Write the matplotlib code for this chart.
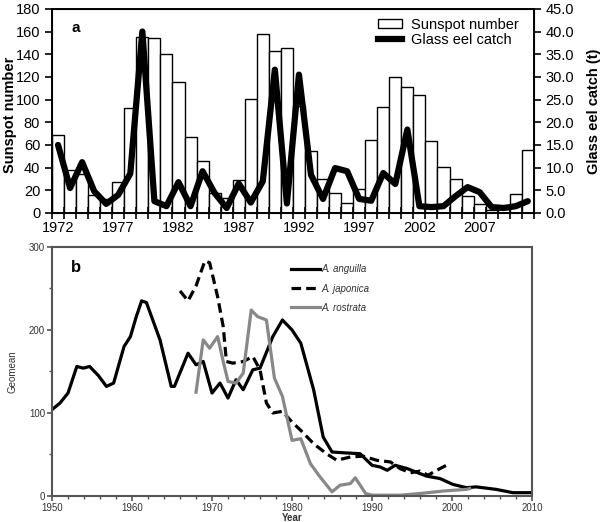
import matplotlib
matplotlib.use("Agg")
import matplotlib.pyplot as plt
from matplotlib.lines import Line2D
from matplotlib.patches import Patch
import numpy as np

plt.rcParams['font.family'] = ['Liberation Sans', 'DejaVu Sans']

# panel a: sunspots vs glass eel catch
years = list(range(1972, 2012))
sunspots = [68.9, 38.0, 34.5, 15.5, 12.6, 27.5, 92.5, 155.4, 154.6, 140.4,
            115.9, 66.6, 45.9, 17.9, 13.4, 29.4, 100.2, 157.6, 142.6, 145.7,
            94.3, 54.6, 29.9, 17.5, 8.6, 21.5, 64.3, 93.3, 119.6, 111.0,
            104.0, 63.7, 40.4, 29.8, 15.2, 7.5, 2.9, 3.1, 16.5, 55.7]
eel_catch = [15.0, 5.5, 11.2, 4.8, 2.0, 4.0, 8.7, 40.0, 2.6, 1.5,
             6.8, 1.5, 9.2, 4.4, 1.1, 6.5, 2.3, 7.0, 31.6, 2.1,
             30.5, 8.4, 3.1, 9.9, 9.2, 3.1, 2.7, 8.8, 6.4, 18.4,
             1.5, 1.3, 1.5, 3.7, 5.7, 4.6, 1.3, 1.1, 1.5, 2.6]
year_labels = [1972, 1977, 1982, 1987, 1992, 1997, 2002, 2007]

# panel b: geomean recruitment indices
ang_x = [1950, 1951, 1952, 1953.1, 1953.9, 1954.7, 1955.8, 1956.8, 1957.7, 1959,
         1959.8, 1960.5, 1961.2, 1961.8, 1963.5, 1964.9, 1965.3, 1967, 1968, 1968.9,
         1970, 1971, 1972, 1973, 1973.9, 1975.1, 1976, 1977.6, 1978.8, 1980,
         1981.1, 1982.7, 1983.9, 1985, 1986.5, 1988.5, 1990, 1991, 1991.9, 1992.9,
         1994.4, 1996.8, 1998.5, 2000.1, 2001.8, 2003, 2005.5, 2007.6, 2010]
ang_y = [104, 112, 124, 156, 154, 156, 145, 132, 136, 180,
         192, 215, 235, 233, 188, 132, 132, 172, 158, 162,
         124, 136, 118, 140, 128, 152, 154, 192, 212, 200,
         184, 128, 71, 53, 52, 51, 37, 35, 31, 37,
         33, 24, 21, 14, 10, 11, 8, 4, 4]

jap_x = [1966, 1967, 1968, 1969.1, 1969.7, 1970.7, 1971.4, 1971.8, 1972.6, 1973.9,
         1975.1, 1976, 1976.8, 1977.6, 1978.8, 1980, 1981.1, 1982.7, 1984.3, 1985.6,
         1987.3, 1988.9, 1990.6, 1992.3, 1993.5, 1994.8, 1996, 1997, 1998.1, 1999.3]
jap_y = [247, 235, 253, 283, 281, 240, 204, 162, 160, 162,
         168, 152, 112, 100, 102, 89, 79, 63, 51, 43,
         47, 48, 43, 41, 33, 28, 30, 25, 31, 37]

ros_x = [1968, 1968.9, 1969.7, 1970.7, 1971.4, 1972, 1973, 1973.9, 1974.9, 1975.7,
         1976.8, 1977.8, 1978.8, 1980, 1981.1, 1982.3, 1983.5, 1985, 1986, 1987.3,
         1987.9, 1989.2, 1990, 1993.5, 1996, 1998.9, 2001.8, 2002.2]
ros_y = [125, 188, 178, 192, 162, 138, 136, 148, 224, 216,
         212, 142, 120, 67, 69, 39, 23, 5, 13, 15,
         22, 3, 1, 1, 3, 6, 8, 9]

fig = plt.figure(figsize=(6, 5.22), dpi=100)

# ---- panel a ----
ax = fig.add_axes([0.0867, 0.592, 0.803, 0.391])
ax.bar(years, sunspots, width=1.0, color='white', edgecolor='black', linewidth=1.0)
ax.set_xlim(1971.5, 2011.5)
ax.set_ylim(0, 180)
ax.set_yticks(range(0, 181, 20))
ax.set_xticks(np.arange(1971.5, 2012, 1.0))
ax.set_xticklabels([])
ax.set_xticks(year_labels, minor=True)
ax.set_xticklabels([str(y) for y in year_labels], minor=True)
ax.tick_params(axis='x', which='major', direction='inout', length=8, width=1.2)
ax.tick_params(axis='x', which='minor', length=0, pad=6, labelsize=10.5)
ax.tick_params(axis='y', direction='out', length=5, width=1.2, labelsize=10.5)
for s in ax.spines.values():
    s.set_linewidth(1.4)
ax.set_ylabel('Sunspot number', fontsize=10.5, fontweight='bold')
ax.yaxis.set_label_coords(-0.073, 0.48)
ax.text(0.04, 0.907, 'a', transform=ax.transAxes, fontsize=11, fontweight='bold',
        va='center')

ax2 = ax.twinx()
ax2.plot(years, eel_catch, color='black', lw=4.5, solid_joinstyle='round',
         solid_capstyle='round')
ax2.set_ylim(0, 45)
ax2.set_yticks(np.arange(0, 46, 5))
ax2.set_yticklabels([f'{v:.1f}' for v in np.arange(0, 46, 5)])
ax2.tick_params(axis='y', direction='out', length=5, width=1.2, labelsize=10.5)
ax2.set_ylabel('Glass eel catch (t)', fontsize=10.5, fontweight='bold', labelpad=9)

handles = [Patch(facecolor='white', edgecolor='black', linewidth=1.0),
           Line2D([], [], color='black', lw=4.5)]
ax2.legend(handles, ['Sunspot number', 'Glass eel catch'], loc='upper right',
           bbox_to_anchor=(0.995, 1.02), frameon=False, fontsize=10.5,
           handlelength=1.6, handleheight=0.6, labelspacing=0.05, handletextpad=0.6)

# ---- panel b ----
gray = '#555555'
bx = fig.add_axes([0.0867, 0.0498, 0.80, 0.4772])
bx.plot(ang_x, ang_y, color='black', lw=2.3, solid_joinstyle='round',
        label='A. anguilla')
bx.plot(jap_x, jap_y, color='black', lw=2.3, ls=(0, (3, 1.6)),
        dash_joinstyle='round', label='A. japonica')
bx.plot(ros_x, ros_y, color='#888888', lw=2.3, solid_joinstyle='round',
        label='A. rostrata')
bx.set_xlim(1950, 2010)
bx.set_ylim(0, 300)
bx.set_xticks(range(1950, 2011, 10))
bx.set_xticks(range(1950, 2011, 2), minor=True)
bx.set_yticks([0, 100, 200, 300])
bx.set_yticks([50, 150, 250], minor=True)
bx.tick_params(which='major', direction='out', length=3.5, width=1.2, color=gray,
               labelsize=7, labelcolor='#333333', pad=1.5)
bx.tick_params(which='minor', direction='out', length=2.5, width=1.0, color=gray)
for s in bx.spines.values():
    s.set_linewidth(1.5)
    s.set_color(gray)
bx.set_xlabel('Year', fontsize=7, fontweight='bold', labelpad=0, color='#333333')
bx.set_ylabel('Geomean', fontsize=7, labelpad=8, color='#333333')
bx.text(0.04, 0.916, 'b', transform=bx.transAxes, fontsize=12, fontweight='bold',
        va='center')
leg = bx.legend(loc='upper left', bbox_to_anchor=(0.48, 0.965), frameon=False,
                prop={'style': 'italic', 'size': 7}, handlelength=3.0,
                handletextpad=0.1, labelspacing=0.95)
for t in leg.get_texts():
    t.set_color('#333333')

fig.savefig('out.png', dpi=100)
